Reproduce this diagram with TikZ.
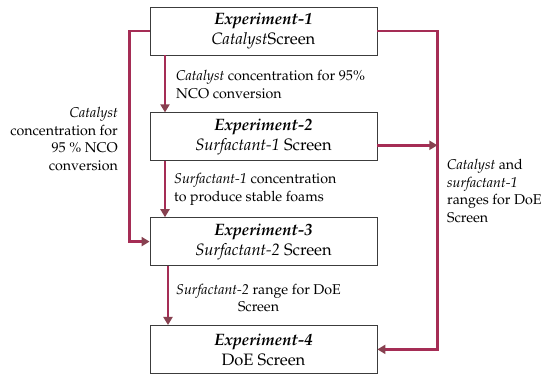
\documentclass[tikz,border=0pt]{standalone}
\usepackage[T1]{fontenc}
\usepackage{mathpazo}
\usepackage{xcolor}
\usepackage{tikz}
\usetikzlibrary{arrows.meta, positioning}
\definecolor{linkred}{RGB}{165, 45, 85}
\definecolor{tipbrown}{RGB}{135, 65, 80}
\definecolor{boxgray}{RGB}{60, 60, 60}

\begin{document}
\begin{tikzpicture}[node distance=57pt,
  expbox/.style={draw=boxgray, line width=0.8pt, rectangle, minimum width=227pt, minimum height=48pt, align=center, inner sep=2pt, font=\fontsize{16.5}{20}\selectfont},
  note/.style={inner sep=0pt, font=\fontsize{14.2}{17.8}\selectfont},
  link/.style={draw=linkred, line width=2.6pt, -{Triangle[length=8pt, width=9pt, color=tipbrown]}}]
  \useasboundingbox (0,0) rectangle (550pt,382pt);

  % Nodes
  \node[expbox] (exp1) at (263.5pt,351pt) {\textbf{\textit{Experiment-1}}\\\textit{Catalyst}Screen};
  \node[expbox, below=of exp1] (exp2) {\textbf{\textit{Experiment-2}}\\\textit{Surfactant-1} Screen};
  \node[expbox, below=56pt of exp2] (exp3) {\textbf{\textit{Experiment-3}}\\\textit{Surfactant-2} Screen};
  \node[expbox, below=59pt of exp3] (exp4) {\textbf{\textit{Experiment-4}}\\DoE Screen};

  % Labels
  \node[note, anchor=west, align=left] (lab12) at (176pt,297.5pt) {\textit{Catalyst} concentration for 95\%\\NCO conversion};
  \node[note, anchor=west, align=left] (lab23) at (174pt,192.5pt) {\textit{Surfactant-1} concentration\\to produce stable foams};
  \node[note, anchor=west, align=center] (lab34) at (176pt,84pt) {\textit{Surfactant-2} range for DoE\\Screen};
  \node[note, anchor=east, align=right] (lab13) at (118pt,243pt) {\textit{Catalyst}\\concentration for\\95 \% NCO\\conversion};
  \node[note, anchor=west, align=left] (labdoe) at (447pt,191pt) {\textit{Catalyst} and\\\textit{surfactant-1}\\ranges for DoE\\Screen};

  % Arrows
  \draw[link] ([xshift=-98.5pt]exp1.south) -- ([xshift=-98.5pt]exp2.north);
  \draw[link] ([xshift=-98.5pt]exp2.south) -- ([xshift=-98.5pt]exp3.north);
  \draw[link] ([xshift=-95.5pt]exp3.south) -- ([xshift=-95.5pt]exp4.north);
  \draw[link] (exp1.west) -- ++(-20pt,0) |- (exp3.west);
  \draw[link] (exp1.east) -- ++(60pt,0) coordinate (rside) |- (exp4.east);
  \draw[link] ([yshift=-8.5pt]exp2.east) -- ([yshift=-8.5pt]exp2.east -| rside);
\end{tikzpicture}
\end{document}
